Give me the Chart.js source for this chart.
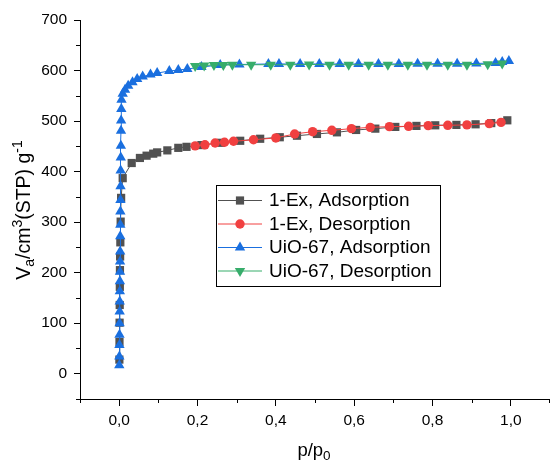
<!DOCTYPE html>
<html>
<head>
<meta charset="utf-8">
<script src="https://cdn.jsdelivr.net/npm/chart.js@4.4.1/dist/chart.umd.min.js"></script>
<style>
    html, body { margin: 0; padding: 0; background: #fff; }
    #wrap { width: 550px; height: 461px; }
</style>
</head>
<body>
<div id="wrap"><canvas id="iso" width="550" height="461"></canvas></div>
<script>
// axis ticks
const xTicks = [0, 0.2, 0.4, 0.6, 0.8, 1.0];
const xMinor = [-0.1, 0.1, 0.3, 0.5, 0.7, 0.9, 1.1];
const yTicks = [0, 100, 200, 300, 400, 500, 600, 700];
const yMinor = [-50, 50, 150, 250, 350, 450, 550, 650];

const seriesNames = ['1-Ex, Adsorption', '1-Ex, Desorption', 'UiO-67, Adsorption', 'UiO-67, Desorption'];
const seriesColors = ['#515151', '#F14040', '#1A6FDF', '#37AD6B'];

// 1-Ex adsorption
const exAdsP = [0.0005, 0.0008, 0.0011, 0.0014, 0.0017, 0.002, 0.0024, 0.003, 0.0038, 0.005, 0.009,
    0.032, 0.053, 0.07, 0.087, 0.097, 0.123, 0.151, 0.172, 0.21, 0.26, 0.309, 0.36, 0.41, 0.454,
    0.505, 0.556, 0.605, 0.654, 0.705, 0.759, 0.807, 0.861, 0.91, 0.95, 0.991];
const exAdsV = [28, 63, 101, 136, 172, 205, 232, 260, 301, 348, 387,
    417, 427, 431.5, 435.5, 438, 442, 447, 449, 452.5, 457, 461, 465, 468, 471,
    474.5, 477.7, 482.4, 485, 488.4, 490.4, 491.6, 492.4, 493.6, 496, 501.5];

// 1-Ex desorption
const exDesP = [0.194, 0.219, 0.245, 0.269, 0.292, 0.343, 0.40, 0.448, 0.494, 0.543, 0.593,
    0.641, 0.690, 0.739, 0.789, 0.839, 0.888, 0.945, 0.975];
const exDesV = [451, 453, 456.5, 458, 460, 463, 466.6, 474.5, 479, 481.7, 485,
    487.6, 489, 489.6, 491, 491.6, 492.4, 495, 497.5];

// UiO-67 adsorption
const uioAdsP = [0.0003, 0.0005, 0.0007, 0.0009, 0.0011, 0.0013, 0.0015, 0.0017, 0.0019, 0.0021,
    0.0023, 0.0025, 0.0027, 0.0029, 0.0031, 0.0033, 0.0035, 0.0038, 0.0041, 0.0044, 0.0047, 0.005,
    0.0055, 0.006, 0.009, 0.015, 0.023, 0.034, 0.046, 0.06, 0.08, 0.097, 0.128, 0.151, 0.174, 0.21,
    0.258, 0.307, 0.381, 0.408, 0.462, 0.511, 0.563, 0.611, 0.662, 0.714, 0.762, 0.813, 0.863,
    0.912, 0.961, 0.978, 0.995];
const uioAdsV = [17, 34, 57, 77, 100, 123, 143, 163, 183, 202,
    222, 242, 272, 295, 321, 344, 371, 402, 428, 451, 481, 501,
    524, 542, 554, 562, 570, 577, 583, 588, 592, 595, 599, 601, 603, 607,
    611, 612, 613, 613, 613, 613, 613, 613, 613, 613, 613.5, 613.5, 613.5,
    614, 615, 617, 619];

// UiO-67 desorption
const uioDesP = [0.194, 0.217, 0.242, 0.266, 0.289, 0.337, 0.387, 0.437, 0.485, 0.537, 0.586,
    0.637, 0.686, 0.737, 0.786, 0.839, 0.888, 0.941, 0.978];
const uioDesV = [609, 610, 611, 611, 611.5, 611.5, 611.5, 611.5, 612, 611.5, 611.5,
    611.5, 611.5, 611.5, 611.5, 611.5, 611.5, 612.5, 614];

const FONT = "'Liberation Sans', Arial, sans-serif";

const toPoints = (xs, ys) => xs.map((x, i) => ({ x: x, y: ys[i] }));

const pointStyles = [
    { pointStyle: 'rect', radius: 5.8, rotation: 0 },
    { pointStyle: 'circle', radius: 4.7, rotation: 0 },
    { pointStyle: 'triangle', radius: 6, rotation: 0 },
    { pointStyle: 'triangle', radius: 6, rotation: 180 }
];

const seriesData = [
    toPoints(exAdsP, exAdsV),
    toPoints(exDesP, exDesV),
    toPoints(uioAdsP, uioAdsV),
    toPoints(uioDesP, uioDesV)
];

const datasets = seriesData.map((data, i) => ({
    label: seriesNames[i],
    data: data,
    borderColor: seriesColors[i],
    backgroundColor: seriesColors[i],
    borderWidth: 1,
    pointStyle: pointStyles[i].pointStyle,
    pointRadius: pointStyles[i].radius,
    pointRotation: pointStyles[i].rotation,
    pointBorderWidth: 0,
    pointBackgroundColor: seriesColors[i],
    tension: 0,
    order: 4 - i
}));

// minor ticks, axis titles with sub/superscripts, and the boxed legend
const extrasPlugin = {
    id: 'extras',
    afterDraw(chart) {
        const ctx = chart.ctx;
        const xs = chart.scales.x;
        const ys = chart.scales.y;
        const area = chart.chartArea;

        ctx.save();
        ctx.strokeStyle = '#000';
        ctx.lineWidth = 1;
        ctx.beginPath();
        xMinor.forEach(v => {
            const px = Math.min(Math.round(xs.getPixelForValue(v)) + 0.5, area.right - 0.5);
            ctx.moveTo(px, area.bottom);
            ctx.lineTo(px, area.bottom + 4);
        });
        yMinor.forEach(v => {
            const py = Math.round(ys.getPixelForValue(v)) + 0.5;
            ctx.moveTo(area.left - 4, py);
            ctx.lineTo(area.left, py);
        });
        ctx.stroke();

        // rich text helper
        const drawRich = (parts, cx, cy) => {
            let total = 0;
            parts.forEach(p => {
                ctx.font = p.size + 'px ' + FONT;
                p.w = ctx.measureText(p.t).width;
                total += p.w;
            });
            let x = cx - total / 2;
            ctx.textAlign = 'left';
            ctx.textBaseline = 'alphabetic';
            ctx.fillStyle = '#000';
            parts.forEach(p => {
                ctx.font = p.size + 'px ' + FONT;
                ctx.fillText(p.t, x, cy + (p.dy || 0));
                x += p.w;
            });
        };

        // x title
        drawRich([
            { t: 'p/p', size: 18.5 },
            { t: '0', size: 13.5, dy: 4 }
        ], 314, 456);

        // y title
        ctx.save();
        ctx.translate(30, 210);
        ctx.rotate(-Math.PI / 2);
        drawRich([
            { t: 'V', size: 19.5 },
            { t: 'a', size: 14, dy: 4 },
            { t: '/cm', size: 19.5 },
            { t: '3', size: 14, dy: -8 },
            { t: '(STP) g', size: 19.5 },
            { t: '-1', size: 14, dy: -8 }
        ], 0, 0);
        ctx.restore();

        // legend box
        const lx = 216.5, ly = 185.5, lw = 224, lh = 101;
        ctx.fillStyle = '#fff';
        ctx.fillRect(lx, ly, lw, lh);
        ctx.strokeStyle = '#000';
        ctx.lineWidth = 1;
        ctx.strokeRect(lx, ly, lw, lh);

        const rowY = [200, 223.5, 247, 270.5];
        chart.data.datasets.forEach((ds, i) => {
            const y = rowY[i];
            ctx.strokeStyle = ds.borderColor;
            ctx.lineWidth = 1;
            ctx.beginPath();
            ctx.moveTo(218, y + 0.5);
            ctx.lineTo(262, y + 0.5);
            ctx.stroke();
            ctx.fillStyle = ds.backgroundColor;
            Chart.helpers.drawPoint(ctx, {
                pointStyle: ds.pointStyle,
                rotation: ds.pointRotation,
                radius: ds.pointRadius,
                borderWidth: 0
            }, 240, y + 0.5);
            ctx.fillStyle = '#000';
            ctx.font = '19px ' + FONT;
            ctx.textAlign = 'left';
            ctx.textBaseline = 'middle';
            ctx.fillText(ds.label, 269, y + 1);
        });
        ctx.restore();
    }
};

new Chart(document.getElementById('iso').getContext('2d'), {
    type: 'line',
    data: { datasets: datasets },
    options: {
        responsive: false,
        animation: false,
        devicePixelRatio: 1,
        layout: { autoPadding: false, padding: { top: 20, right: 0, left: 0, bottom: 0 } },
        scales: {
            x: {
                type: 'linear',
                min: -0.1,
                max: 1.1,
                afterFit: scale => {
                    scale.height = 62;
                    scale.paddingLeft = 0;
                    scale.paddingRight = 0;
                },
                afterBuildTicks: scale => { scale.ticks = xTicks.map(v => ({ value: v })); },
                grid: { drawOnChartArea: false, drawTicks: true, tickLength: 7, tickColor: '#000' },
                border: { display: true, color: '#000', width: 1 },
                ticks: {
                    padding: 5,
                    color: '#000',
                    font: { family: FONT, size: 15.5 },
                    maxRotation: 0,
                    callback: v => v.toFixed(1).replace('.', ',')
                }
            },
            y: {
                type: 'linear',
                min: -50,
                max: 700,
                afterFit: scale => {
                    scale.width = 80;
                    scale.paddingTop = 0;
                    scale.paddingBottom = 0;
                },
                afterBuildTicks: scale => { scale.ticks = yTicks.map(v => ({ value: v })); },
                grid: { drawOnChartArea: false, drawTicks: true, tickLength: 6, tickColor: '#000' },
                border: { display: true, color: '#000', width: 1 },
                ticks: {
                    padding: 7,
                    color: '#000',
                    font: { family: FONT, size: 15.5 },
                    callback: v => String(v)
                }
            }
        },
        plugins: {
            legend: { display: false },
            tooltip: { enabled: false }
        }
    },
    plugins: [extrasPlugin]
});
</script>
</body>
</html>
